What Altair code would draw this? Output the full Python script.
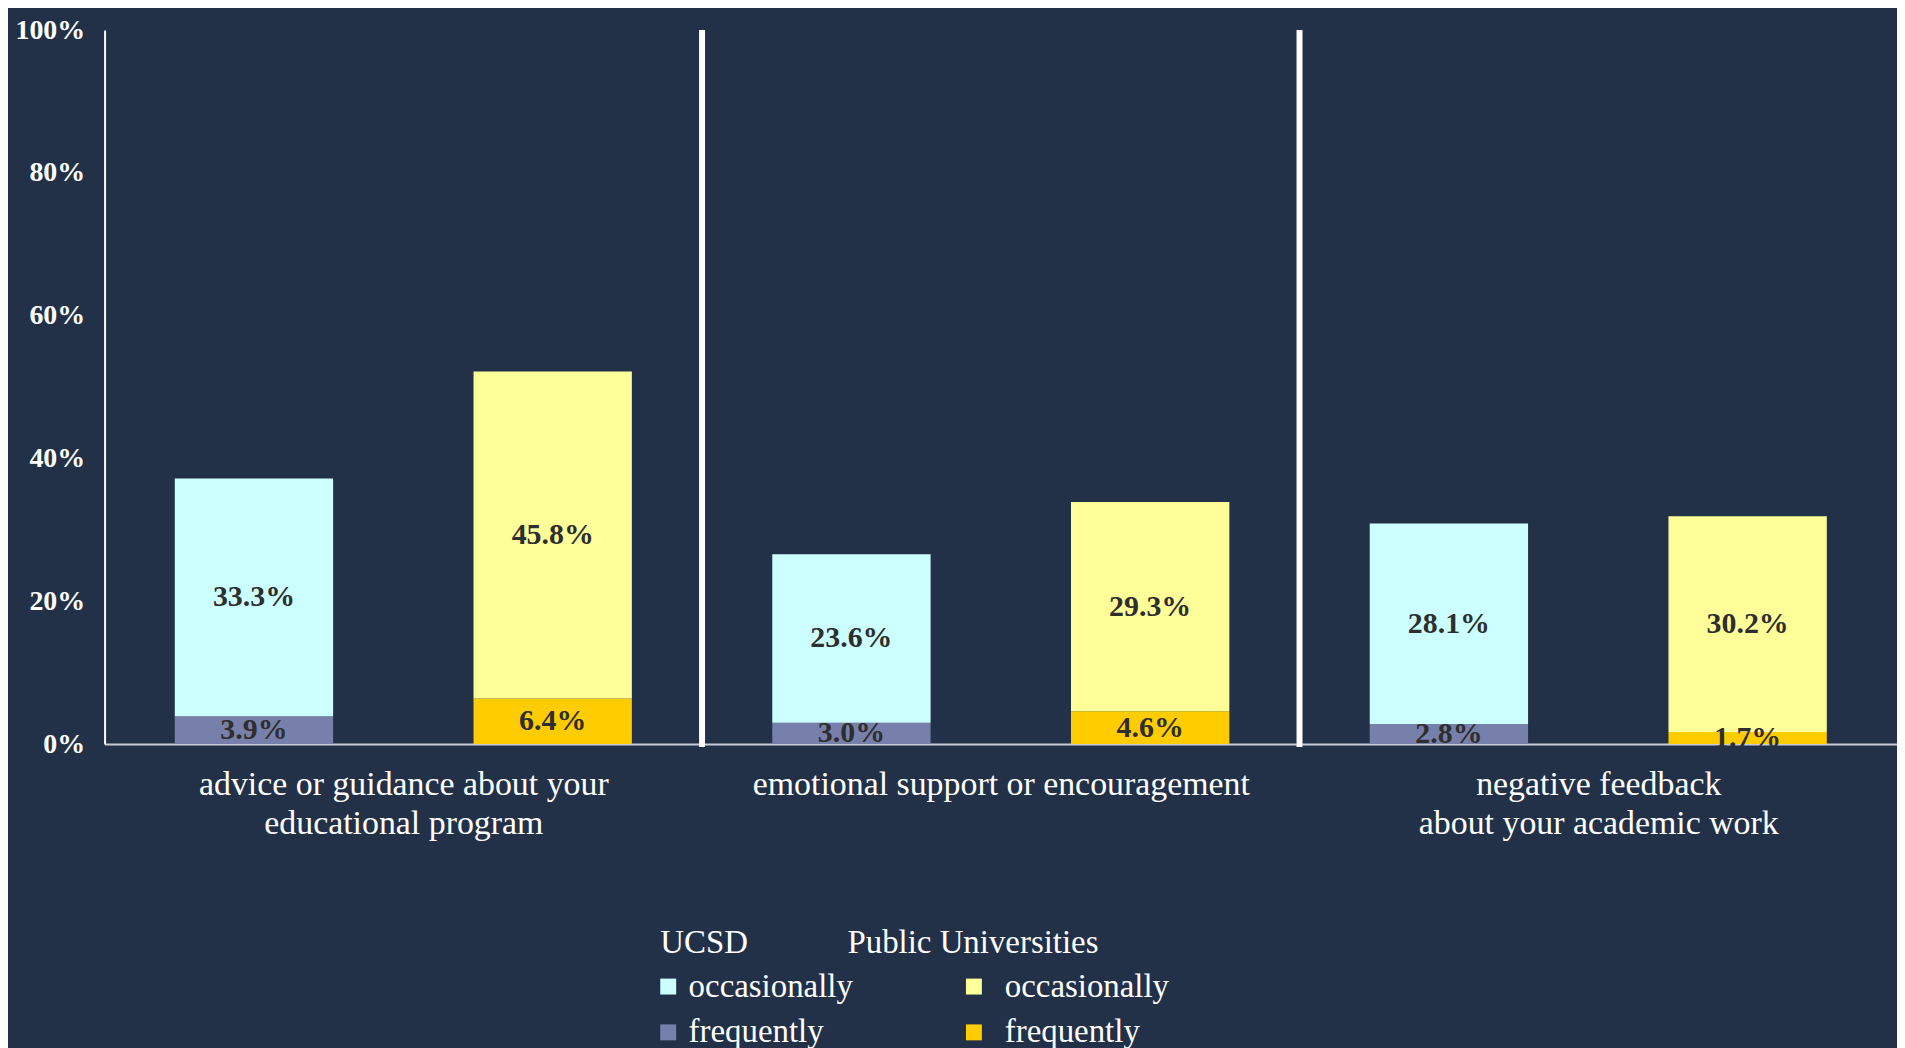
import altair as alt
import pandas as pd

groups = [
    "advice or guidance about your|educational program",
    "emotional support or encouragement",
    "negative feedback|about your academic work",
]
orgs = ["UCSD", "Public Universities"]
ucsd_frequently = [3.9, 3.0, 2.8]
ucsd_occasionally = [33.3, 23.6, 28.1]
public_frequently = [6.4, 4.6, 1.7]
public_occasionally = [45.8, 29.3, 30.2]
y_ticks = [0, 20, 40, 60, 80, 100]

rows = []
for i, g in enumerate(groups):
    for org, fr, oc in [
        ("UCSD", ucsd_frequently, ucsd_occasionally),
        ("Public Universities", public_frequently, public_occasionally),
    ]:
        rows.append(dict(group=g, org=org, level="frequently", rank=0, value=fr[i]))
        rows.append(dict(group=g, org=org, level="occasionally", rank=1, value=oc[i]))
df = pd.DataFrame(rows)
df["plevel"] = "pub:" + df["level"]

BG = "#223148"
FONT = "Liberation Serif"
W = 600
H = 717

y_scale = alt.Scale(domain=[0, 100])

legend_common = dict(
    orient="none",
    symbolType="square",
    symbolSize=256,
    symbolStrokeWidth=0,
    labelFont=FONT,
    labelFontSize=33,
    labelColor="white",
    labelLimit=400,
    titleFont=FONT,
    titleFontSize=33,
    titleFontWeight="normal",
    titleColor="white",
    titleLimit=500,
    titlePadding=10,
    rowPadding=12,
    padding=0,
)


def panel(i, g):
    base = alt.Chart().transform_filter(alt.datum.group == g).transform_stack(
        stack="value",
        groupby=["group", "org"],
        sort=[alt.SortField("rank", order="ascending")],
        as_=["v0", "v1"],
    ).transform_calculate(
        mid="(datum.v0 + datum.v1) / 2",
        label="format(datum.value, '.1f') + '%'",
    )
    x_enc = alt.X(
        "org:N",
        sort=orgs,
        scale=alt.Scale(paddingInner=0.47, paddingOuter=0.235),
        axis=alt.Axis(
            title=g.split("|"),
            labels=False,
            ticks=False,
            domainColor="#c9ccd6",
            domainWidth=2,
            titleFont=FONT,
            titleFontSize=34,
            titleFontWeight="normal",
            titleColor="white",
            titlePadding=24,
            titleLineHeight=39,
            titleBaseline="top",
        ),
    )
    if i == 0:
        y_axis = alt.Axis(
            values=y_ticks,
            labelExpr="datum.value + '%'",
            title=None,
            ticks=False,
            grid=False,
            domainColor="white",
            domainWidth=2,
            labelFont=FONT,
            labelFontSize=28,
            labelFontWeight="bold",
            labelColor="white",
            labelPadding=20,
        )
        leg_u = alt.Legend(
            title="UCSD",
            legendX=558,
            legendY=901,
            symbolOffset=-8.5,
            labelOffset=4,
            **legend_common,
        )
        leg_p = alt.Legend(
            title="Public Universities",
            legendX=746,
            legendY=901,
            symbolOffset=110.5,
            labelOffset=14.5,
            labelExpr="replace(datum.label, 'pub:', '')",
            **legend_common,
        )
    else:
        y_axis = None
        leg_u = None
        leg_p = None

    bars_u = base.transform_filter(alt.datum.org == "UCSD").mark_bar().encode(
        x=x_enc,
        y=alt.Y("v0:Q", scale=y_scale, axis=y_axis),
        y2="v1:Q",
        color=alt.Color(
            "level:N",
            scale=alt.Scale(domain=["occasionally", "frequently"], range=["#CCFFFF", "#7680AA"]),
            legend=leg_u,
        ),
    )
    bars_p = base.transform_filter(alt.datum.org == "Public Universities").mark_bar().encode(
        x=x_enc,
        y=alt.Y("v0:Q", scale=y_scale, axis=y_axis),
        y2="v1:Q",
        fill=alt.Fill(
            "plevel:N",
            scale=alt.Scale(
                domain=["pub:occasionally", "pub:frequently"], range=["#FFFF99", "#FFCC00"]
            ),
            legend=leg_p,
        ),
    )
    labels = base.mark_text(
        font=FONT, fontSize=30, fontWeight="bold", color="#2e2e2e", baseline="middle"
    ).encode(
        x=x_enc,
        y=alt.Y("mid:Q", scale=y_scale, axis=y_axis),
        text="label:N",
    )
    layers = [bars_u, bars_p, labels]
    if i > 0:
        separator = base.transform_filter(
            (alt.datum.org == "UCSD") & (alt.datum.level == "frequently")
        ).mark_rule(color="white", strokeWidth=6).encode(
            x=alt.value(0), y=alt.value(0), y2=alt.value(H + 3)
        )
        layers.append(separator)
    return alt.layer(*layers).properties(width=W, height=H)


chart = alt.hconcat(
    *[panel(i, g) for i, g in enumerate(groups)],
    data=df,
    spacing=0,
    bounds="flush",
).resolve_scale(color="shared", fill="shared").configure(
    background=BG,
    padding={"left": 7, "top": 6, "right": 0, "bottom": 0},
).configure_view(stroke=None)

chart.save("out.html", embed_options={"renderer": "svg", "actions": False})
